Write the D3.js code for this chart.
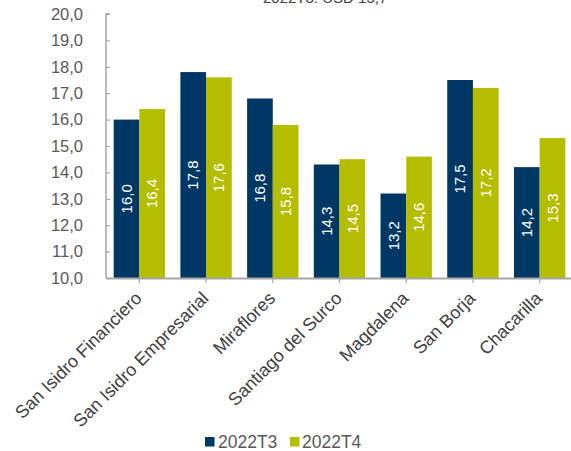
<!DOCTYPE html>
<html><head><meta charset="utf-8">
<script src="https://cdn.jsdelivr.net/npm/d3@7"></script>
<style>body{margin:0;background:#fff}svg{display:block}text{font-family:"Liberation Sans",Arial,sans-serif}</style>
</head><body>
<script>
const categories = ["San Isidro Financiero","San Isidro Empresarial","Miraflores","Santiago del Surco","Magdalena","San Borja","Chacarilla"];
const seriesNames = ["2022T3","2022T4"];
const t3 = [16.0,17.8,16.8,14.3,13.2,17.5,14.2];
const t4 = [16.4,17.6,15.8,14.5,14.6,17.2,15.3];
const yTicks = [10,11,12,13,14,15,16,17,18,19,20];
const titleText = "2022T3: USD 15,7";

const W=571,H=451;
const colors=["#003865","#b5bd00"];
const svg=d3.select("body").append("svg").attr("width",W).attr("height",H);
const x=d3.scaleBand().domain(categories).range([106,573]).paddingInner(0.23).paddingOuter(0.115);
const x1=d3.scaleBand().domain(seriesNames).range([0,x.bandwidth()]);
const y=d3.scaleLinear().domain([10,20]).range([278,14]);
const fmt=d=>d3.format(".1f")(d).replace(".",",");

svg.append("text").attr("x",263).attr("y",3).attr("font-size",15).attr("fill","#404040").text(titleText);

const data=categories.map((c,i)=>({c,vals:[t3[i],t4[i]]}));
const g=svg.append("g");
data.forEach(d=>{
  d.vals.forEach((v,j)=>{
    const bx=x(d.c)+x1(seriesNames[j]), bw=x1.bandwidth();
    g.append("rect").attr("x",bx).attr("y",y(v)).attr("width",bw).attr("height",y(10)-y(v))
      .attr("fill",colors[j]);
    const cx=bx+bw/2, cy=(y(v)+y(10))/2;
    g.append("text").attr("transform",`translate(${cx},${cy}) rotate(-90)`)
      .attr("text-anchor","middle").attr("dy","0.35em").attr("font-size",15).attr("fill","#fff").text(fmt(v));
  });
});

// y axis
const ya=svg.append("g").attr("transform","translate(106,0)")
  .call(d3.axisRight(y).tickValues(yTicks).tickSize(4).tickFormat(""));
ya.select(".domain").attr("stroke","#a6a6a6").attr("stroke-width",1.5).attr("d","M4,14H0V278");
ya.selectAll(".tick line").attr("stroke","#a6a6a6").attr("stroke-width",1.2);
yTicks.forEach(t=>{
  svg.append("text").attr("x",83).attr("y",y(t)).attr("dy","0.35em").attr("text-anchor","end")
    .attr("font-size",16.5).attr("fill","#595959").text(fmt(t));
});

// x axis
const xa=svg.append("g").attr("transform","translate(0,278)")
  .call(d3.axisBottom(x).tickSize(5).tickSizeOuter(0).tickFormat(""));
xa.select(".domain").attr("stroke","#a6a6a6").attr("stroke-width",2);
xa.selectAll(".tick line").attr("stroke","#a6a6a6").attr("stroke-width",1.2);
categories.forEach(c=>{
  const cx=x(c)+x.bandwidth()/2;
  svg.append("text").attr("transform",`translate(${cx-1},${295}) rotate(-45)`)
    .attr("text-anchor","end").attr("dy","0.35em").attr("font-size",18).attr("fill","#404040").text(c);
});

// legend
const lg=svg.append("g");
[[205,218],[290,302]].forEach((p,i)=>{
  lg.append("rect").attr("x",p[0]).attr("y",437).attr("width",9.5).attr("height",9.5).attr("fill",colors[i]);
  lg.append("text").attr("x",p[1]).attr("y",442).attr("dy","0.35em").attr("font-size",17.5).attr("fill","#595959").text(seriesNames[i]);
});
</script>
</body></html>
